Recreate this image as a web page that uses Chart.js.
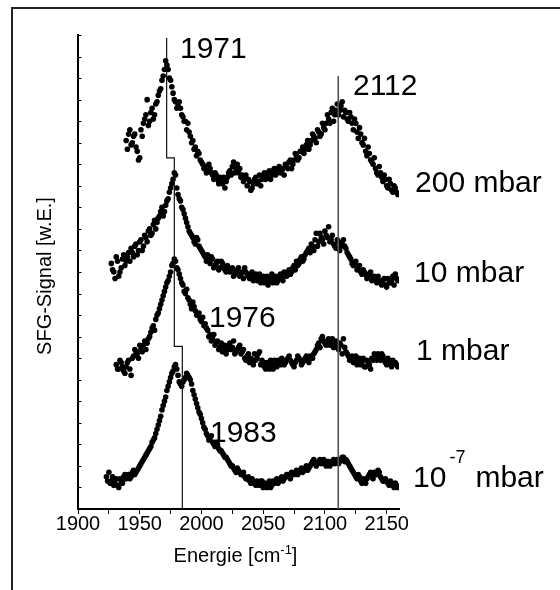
<!DOCTYPE html>
<html>
<head>
<meta charset="utf-8">
<script src="https://cdn.jsdelivr.net/npm/chart.js@4.4.1/dist/chart.umd.min.js"></script>
<style>
  html, body { margin: 0; padding: 0; background: #fff; overflow: hidden; }
  canvas { display: block; }
</style>
</head>
<body>
<canvas id="sfgChart" width="560" height="590"></canvas>
<script>
// energy grids, cm-1 (two interleaved scans)
const energies = [
  1923,1925,1927,1929,1931,1933,1935,1937,1939,1941,
  1943,1945,1947,1949,1951,1953,1955,1957,1959,1961,
  1963,1965,1967,1969,1971,1973,1975,1977,1979,1981,
  1983,1985,1987,1989,1991,1993,1995,1997,1999,2001,
  2003,2005,2007,2009,2011,2013,2015,2017,2019,2021,
  2023,2025,2027,2029,2031,2033,2035,2037,2039,2041,
  2043,2045,2047,2049,2051,2053,2055,2057,2059,2061,
  2063,2065,2067,2069,2071,2073,2075,2077,2079,2081,
  2083,2085,2087,2089,2091,2093,2095,2097,2099,2101,
  2103,2105,2107,2109,2111,2113,2115,2117,2119,2121,
  2123,2125,2127,2129,2131,2133,2135,2137,2139,2141,
  2143,2145,2147,2149,2151,2153,2155,2157,2159
];
const energiesB = [
  1924,1926,1928,1930,1932,1934,1936,1938,1940,1942,
  1944,1946,1948,1950,1952,1954,1956,1958,1960,1962,
  1964,1966,1968,1970,1972,1974,1976,1978,1980,1982,
  1984,1986,1988,1990,1992,1994,1996,1998,2000,2002,
  2004,2006,2008,2010,2012,2014,2016,2018,2020,2022,
  2024,2026,2028,2030,2032,2034,2036,2038,2040,2042,
  2044,2046,2048,2050,2052,2054,2056,2058,2060,2062,
  2064,2066,2068,2070,2072,2074,2076,2078,2080,2082,
  2084,2086,2088,2090,2092,2094,2096,2098,2100,2102,
  2104,2106,2108,2110,2112,2114,2116,2118,2120,2122,
  2124,2126,2128,2130,2132,2134,2136,2138,2140,2142,
  2144,2146,2148,2150,2152,2154,2156,2158
];

// SFG signal (arb. units, spectra stacked with offset)
const signal200 = [
  null,null,null,null,null,null,null,null,17.1,17.4,
  16.9,17.3,16.8,16.2,17.6,17.9,18.3,17.8,18.4,18.1,
  18.8,19.2,19.5,20.1,20.8,20.4,19.9,19.3,18.9,18.7,
  18.6,18.2,18.0,17.9,17.3,17.1,16.8,16.6,16.2,16.0,
  15.9,15.7,15.8,15.5,15.6,15.3,15.4,15.1,14.9,15.4,
  15.7,15.9,15.6,16.0,15.8,15.5,15.3,15.0,15.2,14.9,
  15.3,15.1,15.5,15.3,15.6,15.4,15.7,15.5,15.8,15.6,
  15.9,15.7,15.5,15.9,16.1,15.8,16.2,16.4,16.3,16.6,
  16.5,16.9,16.7,17.1,17.3,17.0,17.5,17.4,17.7,17.9,
  18.1,18.4,18.0,18.5,18.3,18.7,18.2,18.4,18.0,18.2,
  17.6,17.9,17.2,17.4,16.9,16.6,16.8,16.2,16.0,15.8,
  15.5,15.6,15.2,15.3,14.9,15.1,14.7,14.9,14.6
];
const signal200B = [
  null,null,null,null,null,null,null,null,16.7,17.6,
  17.0,17.4,16.6,16.3,17.3,18.1,19.0,18.0,18.6,18.3,
  18.9,19.4,19.9,20.4,20.6,20.0,19.6,19.0,18.6,18.9,
  18.3,18.0,17.6,17.5,17.0,16.7,16.4,16.5,16.1,15.8,
  15.6,16.0,15.6,15.3,15.5,15.1,15.2,15.4,15.2,15.6,
  15.5,16.1,15.8,15.6,15.4,15.2,15.5,15.3,14.8,15.1,
  15.4,15.2,15.0,15.5,15.3,15.6,15.3,15.7,15.5,15.8,
  15.6,15.8,16.0,15.8,16.2,16.0,16.5,16.2,16.6,16.8,
  16.7,17.1,16.9,17.4,17.2,17.6,17.3,17.9,17.6,18.3,
  17.9,18.6,18.3,18.8,18.5,18.9,18.5,18.1,18.4,17.9,
  18.1,17.5,17.7,17.0,17.2,16.4,16.5,16.1,16.3,15.6,
  15.9,15.4,15.5,15.0,15.3,14.8,15.0,14.7
];
const signal10 = [
  null,null,11.4,11.0,11.7,10.8,11.2,11.8,11.5,11.9,
  12.1,11.7,12.3,12.0,12.5,12.2,12.6,12.9,12.7,13.2,
  13.0,13.5,13.8,13.6,14.1,14.4,14.9,15.3,15.5,14.6,
  14.3,13.9,13.5,13.1,12.8,12.6,12.3,12.5,12.1,11.9,
  11.7,11.8,11.4,11.6,11.3,11.5,11.2,11.4,11.1,11.3,
  11.0,11.2,10.9,11.1,10.8,11.0,11.2,10.9,10.7,11.0,
  10.8,10.6,10.9,10.7,10.5,10.8,10.6,10.9,10.7,10.5,
  10.8,10.7,11.0,10.8,11.1,11.0,11.3,11.5,11.4,11.7,
  11.6,11.9,12.1,12.3,12.0,12.8,12.4,12.6,12.3,12.7,
  13.1,12.5,12.3,12.1,12.4,12.2,12.5,12.1,11.8,11.6,
  11.3,11.5,11.2,11.0,11.1,10.9,10.8,11.0,10.7,10.6,
  10.8,10.5,10.6,10.4,10.7,10.5,10.8,10.9,10.6
];
const signal10B = [
  null,null,11.1,10.7,11.5,11.0,11.6,11.3,11.7,11.5,
  11.9,12.2,11.8,12.4,12.0,12.7,12.4,13.0,12.8,13.4,
  13.3,13.6,14.0,13.8,14.3,14.7,15.1,15.6,14.9,14.4,
  14.0,13.7,13.3,12.9,12.7,12.4,12.6,12.2,12.0,11.8,
  11.5,11.6,11.7,11.2,11.4,11.1,11.5,11.2,11.0,11.2,
  11.1,10.8,11.0,11.2,10.9,10.7,11.0,10.8,10.9,10.6,
  10.9,10.7,10.5,10.8,10.6,10.4,10.7,10.5,10.8,10.6,
  10.9,10.6,10.9,11.0,10.9,11.2,11.1,11.3,11.6,11.5,
  11.8,12.0,11.9,12.2,12.5,12.2,12.8,12.5,12.9,12.6,
  12.4,12.7,12.2,12.5,12.0,12.3,12.2,11.9,11.7,11.4,
  11.4,11.1,11.3,10.9,11.0,10.7,10.9,10.6,10.8,10.5,
  10.6,10.4,10.7,10.3,10.5,10.6,10.4,10.7
];
const signal1 = [
  null,null,null,null,6.7,6.5,6.8,6.4,6.6,6.9,
  6.2,7.1,7.3,7.0,7.4,7.6,7.4,7.9,8.2,8.5,
  8.8,9.1,9.5,9.9,10.3,10.6,11.0,11.4,11.5,11.1,
  10.7,10.4,10.0,9.8,9.5,9.6,9.2,9.0,8.8,8.9,
  8.6,8.3,8.1,7.9,7.6,7.8,7.5,7.3,7.6,7.4,
  7.7,7.5,7.2,7.4,7.6,7.3,7.0,7.1,6.8,6.9,
  7.2,7.0,7.3,6.9,6.6,6.8,6.5,6.7,6.9,6.6,
  6.8,7.0,6.7,6.9,7.1,6.8,6.6,6.9,7.0,6.7,
  6.9,7.1,6.8,7.0,7.2,7.4,7.7,7.9,7.8,7.6,
  7.9,7.7,7.5,7.8,7.4,7.6,7.9,7.3,7.1,7.0,
  6.8,7.1,6.9,6.7,7.0,6.6,6.8,6.5,6.9,7.1,
  7.2,6.9,7.1,6.8,7.0,6.7,6.9,6.8,6.6
];
const signal1B = [
  null,null,null,null,6.5,6.9,6.6,6.3,6.8,6.5,
  7.0,7.4,7.2,7.6,7.3,7.8,7.7,8.0,8.4,8.3,
  9.0,9.3,9.7,10.1,10.5,10.8,11.3,11.6,11.2,10.9,
  10.5,10.1,10.2,9.7,9.3,9.4,9.0,9.1,8.7,8.5,
  8.4,8.0,7.8,8.1,7.7,7.4,7.7,7.5,7.2,7.6,
  7.4,7.8,7.3,7.5,7.2,7.4,6.9,7.2,7.0,6.7,
  6.9,7.2,6.7,6.8,6.5,6.7,6.9,6.5,6.7,6.9,
  6.7,6.9,6.8,7.0,6.9,6.7,6.8,7.1,6.9,6.8,
  7.0,6.9,7.1,7.0,7.3,7.6,7.5,8.0,7.7,7.8,
  7.6,7.9,7.6,7.5,7.7,7.2,7.5,7.2,6.9,7.1,
  6.9,6.7,7.0,6.8,6.6,6.9,6.7,7.0,7.2,6.9,
  7.0,7.2,6.9,6.7,6.9,6.6,6.8,6.7
];
const signalUHV = [
  1.5,1.7,1.3,1.1,1.4,1.0,1.3,1.5,1.4,1.6,
  1.5,1.8,1.7,1.9,2.1,2.3,2.5,2.7,2.9,3.2,
  3.5,3.9,4.3,4.8,5.2,5.7,6.1,6.4,6.7,6.2,
  5.8,5.9,6.1,6.2,6.0,5.5,5.1,4.7,4.4,4.0,
  3.7,3.4,3.3,3.1,2.9,3.0,2.7,2.6,2.4,2.3,
  2.1,2.0,1.8,1.9,1.7,1.6,1.5,1.4,1.3,1.4,
  1.2,1.3,1.1,1.3,1.2,1.0,1.3,1.1,1.2,1.4,
  1.3,1.5,1.4,1.6,1.5,1.7,1.6,1.8,1.7,1.9,
  1.8,2.0,1.9,2.1,2.3,2.0,2.2,2.1,2.3,2.0,
  2.2,2.1,2.3,2.2,2.1,2.3,2.4,2.3,2.1,1.9,
  1.7,1.5,1.6,1.3,1.4,1.2,1.5,1.7,1.4,1.6,
  1.8,1.5,1.3,1.4,1.2,1.3,1.1,1.2,1.0
];
const signalUHVB = [
  1.3,1.2,1.5,1.2,1.1,1.4,1.2,1.6,1.5,1.4,
  1.7,1.6,1.8,2.0,2.2,2.4,2.6,2.8,3.1,3.3,
  3.7,4.1,4.6,5.0,5.5,5.9,6.3,6.6,6.5,5.9,
  5.7,6.0,6.3,6.1,5.8,5.3,4.9,4.5,4.2,3.8,
  3.5,3.2,3.4,3.0,3.1,2.8,2.7,2.5,2.4,2.2,
  2.0,1.9,1.7,1.8,1.6,1.7,1.4,1.5,1.2,1.3,
  1.1,1.2,1.3,1.0,1.1,1.2,1.0,1.3,1.3,1.2,
  1.4,1.3,1.5,1.6,1.4,1.6,1.7,1.6,1.8,1.7,
  1.9,1.8,2.0,2.2,2.1,2.1,2.3,2.2,2.1,2.2,
  2.0,2.2,2.1,2.3,2.2,2.4,2.2,2.2,2.0,1.8,
  1.6,1.4,1.5,1.2,1.3,1.4,1.6,1.5,1.7,1.6,
  1.7,1.4,1.3,1.3,1.1,1.2,1.0,1.1
];

// peak position markers
const stepLineX = [1971.8, 1971.8, 1978.0, 1978.0, 1984.5, 1984.5];
const stepLineY = [21.86, 16.3, 16.3, 7.55, 7.55, 0];
const coLineX = [2110.8, 2110.8];
const coLineY = [20.1, 0];

const peakLabels = ['1971', '2112', '1976', '1983'];
const pressureLabels = [['200', '', ' mbar'], ['10', '', ' mbar'], ['1', '', ' mbar'], ['10', '-7', 'mbar']];

// label anchors (data coordinates)
const peakAnchors = [[1982.6, 20.93], [2122.7, 19.21], [2006.1, 8.45], [2006.9, 3.11]];
const pressureAnchors = [[2173.0, 14.71], [2172.2, 10.53], [2173.8, 6.91], [2171.4, 1.02]];

const FONT = '"Liberation Sans", Arial, Helvetica, sans-serif';

function toPoints(xs, ys) {
  const pts = [];
  xs.forEach((x, i) => { if (ys[i] !== null && ys[i] !== undefined) pts.push({ x: x, y: ys[i] }); });
  return pts;
}

function dots(xs, ys) {
  return {
    type: 'scatter',
    data: toPoints(xs, ys),
    pointRadius: 2.8,
    pointHoverRadius: 2.8,
    pointBackgroundColor: '#000',
    pointBorderWidth: 0,
    showLine: false
  };
}

const framePlugin = {
  id: 'framePlugin',
  beforeDraw(chart) {
    const ctx = chart.ctx;
    ctx.save();
    ctx.fillStyle = '#fff';
    ctx.fillRect(0, 0, chart.width, chart.height);
    ctx.strokeStyle = '#222';
    ctx.lineWidth = 2;
    ctx.beginPath();
    ctx.moveTo(12, chart.height);
    ctx.lineTo(12, 8);
    ctx.lineTo(chart.width, 8);
    ctx.stroke();
    ctx.restore();
  }
};

const labelsPlugin = {
  id: 'labelsPlugin',
  afterDraw(chart) {
    const { ctx, chartArea, scales: { x, y } } = chart;
    ctx.save();

    // inward ticks on the y axis
    ctx.strokeStyle = '#000';
    ctx.lineWidth = 1;
    y.ticks.forEach(t => {
      const py = Math.round(y.getPixelForValue(t.value)) + 0.5;
      ctx.beginPath();
      ctx.moveTo(chartArea.left, py);
      ctx.lineTo(chartArea.left + 3.5, py);
      ctx.stroke();
    });

    ctx.fillStyle = '#000';
    ctx.textAlign = 'left';
    ctx.textBaseline = 'alphabetic';
    ctx.font = '30px ' + FONT;
    peakLabels.forEach((txt, i) => {
      ctx.fillText(txt, x.getPixelForValue(peakAnchors[i][0]), y.getPixelForValue(peakAnchors[i][1]));
    });

    pressureLabels.forEach((parts, i) => {
      let px = x.getPixelForValue(pressureAnchors[i][0]);
      const py = y.getPixelForValue(pressureAnchors[i][1]);
      ctx.font = '30px ' + FONT;
      ctx.fillText(parts[0], px, py);
      px += ctx.measureText(parts[0]).width;
      if (parts[1]) {
        ctx.font = '18px ' + FONT;
        ctx.fillText(parts[1], px + 3, py - 24);
        px += 3 + ctx.measureText(parts[1]).width + 10;
        ctx.font = '30px ' + FONT;
      }
      ctx.fillText(parts[2], px, py);
    });

    // x axis title with superscript
    ctx.font = '20px ' + FONT;
    const a = 'Energie [cm', b = '-1', c = ']';
    const wa = ctx.measureText(a).width;
    ctx.font = '13px ' + FONT;
    const wb = ctx.measureText(b).width;
    ctx.font = '20px ' + FONT;
    const wc = ctx.measureText(c).width;
    const cx = (chartArea.left + chartArea.right) / 2 - 3;
    let sx = cx - (wa + wb + wc) / 2;
    const by = chartArea.bottom + 53;
    ctx.fillText(a, sx, by);
    sx += wa;
    ctx.font = '13px ' + FONT;
    ctx.fillText(b, sx, by - 8);
    sx += wb;
    ctx.font = '20px ' + FONT;
    ctx.fillText(c, sx, by);

    // y axis title
    ctx.translate(chartArea.left - 33, (chartArea.top + chartArea.bottom) / 2 + 4);
    ctx.rotate(-Math.PI / 2);
    ctx.textAlign = 'center';
    ctx.textBaseline = 'middle';
    ctx.font = '20px ' + FONT;
    ctx.fillText('SFG-Signal [w.E.]', 0, 0);

    ctx.restore();
  }
};

const ctx = document.getElementById('sfgChart');

new Chart(ctx, {
  type: 'scatter',
  data: {
    datasets: [
      {
        type: 'line',
        data: toPoints(stepLineX, stepLineY),
        borderColor: '#111',
        borderWidth: 1.2,
        pointRadius: 0,
        tension: 0,
        fill: false
      },
      {
        type: 'line',
        data: toPoints(coLineX, coLineY),
        borderColor: '#555',
        borderWidth: 1.6,
        pointRadius: 0,
        fill: false
      },
      dots(energies, signal200),
      dots(energiesB, signal200B),
      dots(energies, signal10),
      dots(energiesB, signal10B),
      dots(energies, signal1),
      dots(energiesB, signal1B),
      dots(energies, signalUHV),
      dots(energiesB, signalUHVB)
    ]
  },
  options: {
    responsive: false,
    animation: false,
    events: [],
    layout: { padding: { left: 78, top: 35, right: 161, bottom: 0 } },
    plugins: {
      legend: { display: false },
      tooltip: { enabled: false }
    },
    scales: {
      x: {
        type: 'linear',
        min: 1900,
        max: 2160,
        afterFit(scale) { scale.height = 81; },
        border: { display: true, color: '#000', width: 2 },
        grid: { display: true, drawOnChartArea: false, drawTicks: true, tickLength: 5, color: '#000', lineWidth: 1 },
        ticks: {
          stepSize: 25,
          includeBounds: false,
          autoSkip: false,
          maxRotation: 0,
          padding: -2,
          color: '#000',
          font: { family: FONT, size: 20 },
          callback: v => (v % 50 === 0 ? String(v) : '')
        }
      },
      y: {
        type: 'linear',
        min: 0,
        max: 22,
        afterFit(scale) { scale.width = 0; },
        border: { display: true, color: '#000', width: 2 },
        grid: { display: false },
        ticks: { display: false, stepSize: 1 }
      }
    }
  },
  plugins: [framePlugin, labelsPlugin]
});
</script>
</body>
</html>
